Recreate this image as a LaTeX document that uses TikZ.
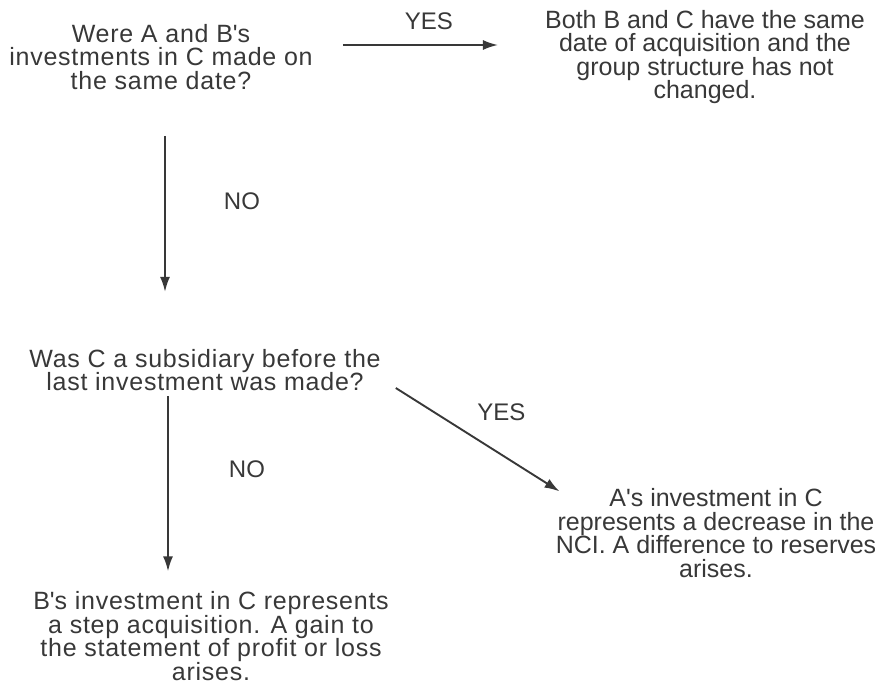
\documentclass[tikz,border=0pt]{standalone}
\usepackage{fontspec}
\setmainfont{Liberation Sans}
\newfontfamily\spacedfont{Liberation Sans}[LetterSpace=3]
\usetikzlibrary{arrows.meta}
\definecolor{inkgrey}{HTML}{383838}
\tikzstyle{flowtext}=[align=center,text=inkgrey,inner sep=0pt,font=\fontsize{25}{23.5}\selectfont]
\tikzstyle{lefttext}=[flowtext,font=\fontsize{25}{23.5}\spacedfont]
\tikzstyle{flowarrow}=[draw=inkgrey,line width=1.9pt,-{Latex[length=15pt,width=10pt]}]
\tikzstyle{answer}=[text=inkgrey,inner sep=0pt,font=\fontsize{24}{23.5}\selectfont]

\begin{document}
\begin{tikzpicture}[x=1pt,y=-1pt]
	\useasboundingbox (0,0) rectangle (875,698);
	% questions
	\node[lefttext] (samedate) at (161,57) {Were A and B\textquotesingle s\\investments in C made on\\the same date?};
	\node[lefttext] (subsid) at (205,370) {Was C a subsidiary before the\\last investment was made?};
	% outcomes
	\node[flowtext] (sameacq) at (705,57) {Both B and C have the same\\date of acquisition and the\\group structure has not\\changed.};
	\node[flowtext] (decrease) at (716,533) {A\textquotesingle s investment in C\\represents a decrease in the\\NCI. A difference to reserves\\arises.};
	\node[lefttext] (steptext) at (211,636) {B\textquotesingle s investment in C represents\\a step acquisition. A gain to\\the statement of profit or loss\\arises.};
	% connectors
	\draw[flowarrow,shorten <=30pt,shorten >=47pt] ([yshift=12pt]samedate.east) -- ([yshift=12pt]samedate.east -| sameacq.west) node[answer,midway,above=14pt] {YES};
	\draw[flowarrow,shorten <=46pt,shorten >=57pt] ([xshift=4pt]samedate.south) -- ([xshift=4pt]samedate.south |- subsid.north) node[answer,pos=0.43,right=58pt] {NO};
	\draw[flowarrow,shorten <=5pt,shorten >=20pt] ([xshift=-37pt]subsid.south) -- ([xshift=-37pt]subsid.south |- steptext.north) node[answer,pos=0.39,right=60pt] {NO};
	\draw[flowarrow] ([xshift=15pt,yshift=-18pt]subsid.east) -- ([xshift=4pt,yshift=-3pt]decrease.north west) node[answer,pos=0.4,xshift=40pt,yshift=17pt] {YES};
\end{tikzpicture}
\end{document}
